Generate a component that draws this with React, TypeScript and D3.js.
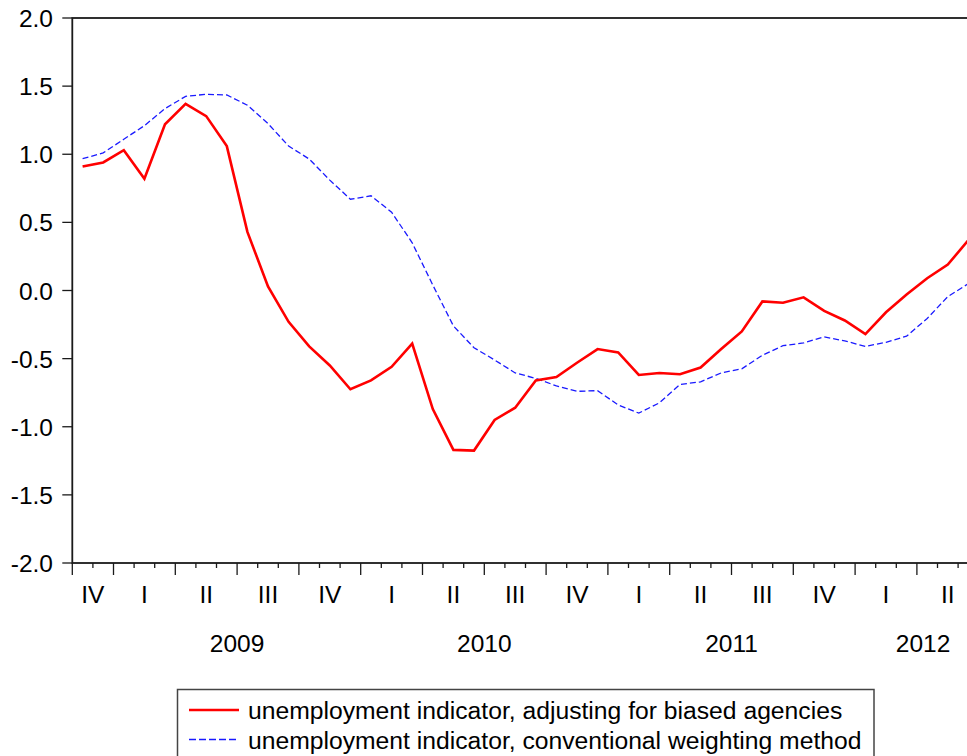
import React from "react";
import * as d3 from "d3";

// Monthly observations, Nov 2008 .. Jun 2012
const months: string[] = [
  "2008-11", "2008-12",
  "2009-01", "2009-02", "2009-03", "2009-04", "2009-05", "2009-06",
  "2009-07", "2009-08", "2009-09", "2009-10", "2009-11", "2009-12",
  "2010-01", "2010-02", "2010-03", "2010-04", "2010-05", "2010-06",
  "2010-07", "2010-08", "2010-09", "2010-10", "2010-11", "2010-12",
  "2011-01", "2011-02", "2011-03", "2011-04", "2011-05", "2011-06",
  "2011-07", "2011-08", "2011-09", "2011-10", "2011-11", "2011-12",
  "2012-01", "2012-02", "2012-03", "2012-04", "2012-05", "2012-06",
];

const adjusted: number[] = [
  0.91, 0.94, 1.03, 0.82, 1.22, 1.37, 1.28, 1.06, 0.43, 0.03, -0.23, -0.41,
  -0.55, -0.725, -0.66, -0.56, -0.39, -0.87, -1.17, -1.175, -0.95, -0.86,
  -0.66, -0.635, -0.53, -0.43, -0.455, -0.62, -0.605, -0.615, -0.565, -0.43,
  -0.3, -0.08, -0.09, -0.05, -0.15, -0.22, -0.32, -0.16, -0.03, 0.09, 0.19,
  0.37,
];

const conventional: number[] = [
  0.967, 1.01, 1.11, 1.21, 1.335, 1.425, 1.44, 1.435, 1.36, 1.225, 1.06,
  0.965, 0.81, 0.67, 0.695, 0.575, 0.35, 0.04, -0.26, -0.42, -0.51, -0.605,
  -0.645, -0.7, -0.74, -0.735, -0.84, -0.9, -0.825, -0.69, -0.67, -0.605,
  -0.575, -0.475, -0.405, -0.385, -0.34, -0.37, -0.41, -0.38, -0.335, -0.205,
  -0.045, 0.05,
];

const yTicks: number[] = [-2.0, -1.5, -1.0, -0.5, 0.0, 0.5, 1.0, 1.5, 2.0];

// quarter labels with their [start, end) month-index spans
const quarterLabels: string[] = ["IV", "I", "II", "III", "IV", "I", "II", "III", "IV", "I", "II", "III", "IV", "I", "II"];
const quarterStarts: number[] = [0, 2, 5, 8, 11, 14, 17, 20, 23, 26, 29, 32, 35, 38, 41];
const quarterEnds: number[] = [2, 5, 8, 11, 14, 17, 20, 23, 26, 29, 32, 35, 38, 41, 44];

const yearLabels: string[] = ["2009", "2010", "2011", "2012"];
const yearStarts: number[] = [2, 14, 26, 38];
const yearEnds: number[] = [14, 26, 38, 44.6];

const legendLabels: string[] = [
  "unemployment indicator, adjusting for biased agencies",
  "unemployment indicator, conventional weighting method",
];

const W = 967;
const H = 756;
const FONT = "'Liberation Sans', Arial, Helvetica, sans-serif";

export default function App() {
  const left = 72.3;
  const top = 18;
  const bottom = 563;
  const monthW = 20.6;
  const x = d3.scaleLinear().domain([0, months.length]).range([left, left + months.length * monthW]);
  const y = d3.scaleLinear().domain([-2, 2]).range([bottom, top]);
  const right = x(months.length);

  const line = d3
    .line<number>()
    .x((_, i) => x(i + 0.5))
    .y((d) => y(d));

  const monthTicks = d3.range(0, months.length + 1);
  const quarterSet = new Set(quarterStarts);

  const axisColor = "#1a1a1a";

  return (
    <div style={{ position: "absolute", left: 0, top: 0, width: W, height: H, overflow: "hidden", background: "#fff" }}>
      <svg width={W} height={H} style={{ display: "block" }} fontFamily={FONT}>
        <rect x={0} y={0} width={W} height={H} fill="#fff" />
        {/* series */}
        <path d={line(conventional) || ""} fill="none" stroke="#1a1aff" strokeWidth={1.3} strokeDasharray="6,3" />
        <path d={line(adjusted) || ""} fill="none" stroke="#ff0000" strokeWidth={2.6} strokeLinejoin="miter" />

        {/* frame */}
        <rect x={left} y={top} width={right - left} height={bottom - top} fill="none" stroke={axisColor} strokeWidth={1.8} />

        {/* y axis ticks and labels */}
        {yTicks.map((t) => (
          <g key={t}>
            <line x1={left - 10} x2={left} y1={y(t)} y2={y(t)} stroke={axisColor} strokeWidth={1.3} />
            <text x={53} y={y(t) + 9} textAnchor="end" fontSize={24.5} fill="#000">
              {t.toFixed(1)}
            </text>
          </g>
        ))}

        {/* x ticks */}
        {monthTicks.map((m) => (
          <line
            key={m}
            x1={x(m)}
            x2={x(m)}
            y1={bottom}
            y2={bottom + (quarterSet.has(m) ? 12 : 5)}
            stroke={axisColor}
            strokeWidth={1.3}
          />
        ))}

        {/* quarter labels */}
        {quarterLabels.map((q, i) => (
          <text key={i} x={x((quarterStarts[i] + quarterEnds[i]) / 2)} y={603} textAnchor="middle" fontSize={24.5} fill="#000">
            {q}
          </text>
        ))}

        {/* year labels */}
        {yearLabels.map((yr, i) => (
          <text key={yr} x={x((yearStarts[i] + yearEnds[i]) / 2)} y={652} textAnchor="middle" fontSize={24.5} fill="#000">
            {yr}
          </text>
        ))}

        {/* legend */}
        <rect x={177.5} y={689.5} width={696.5} height={90} fill="#fff" stroke="#444" strokeWidth={1.5} />
        <line x1={189} x2={239} y1={710} y2={710} stroke="#ff0000" strokeWidth={2.6} />
        <line x1={189} x2={239} y1={739.5} y2={739.5} stroke="#1a1aff" strokeWidth={1.3} strokeDasharray="7,3" />
        <text x={248} y={719} fontSize={24.7} fill="#000">
          {legendLabels[0]}
        </text>
        <text x={248} y={748.5} fontSize={24.7} fill="#000">
          {legendLabels[1]}
        </text>
      </svg>
    </div>
  );
}
